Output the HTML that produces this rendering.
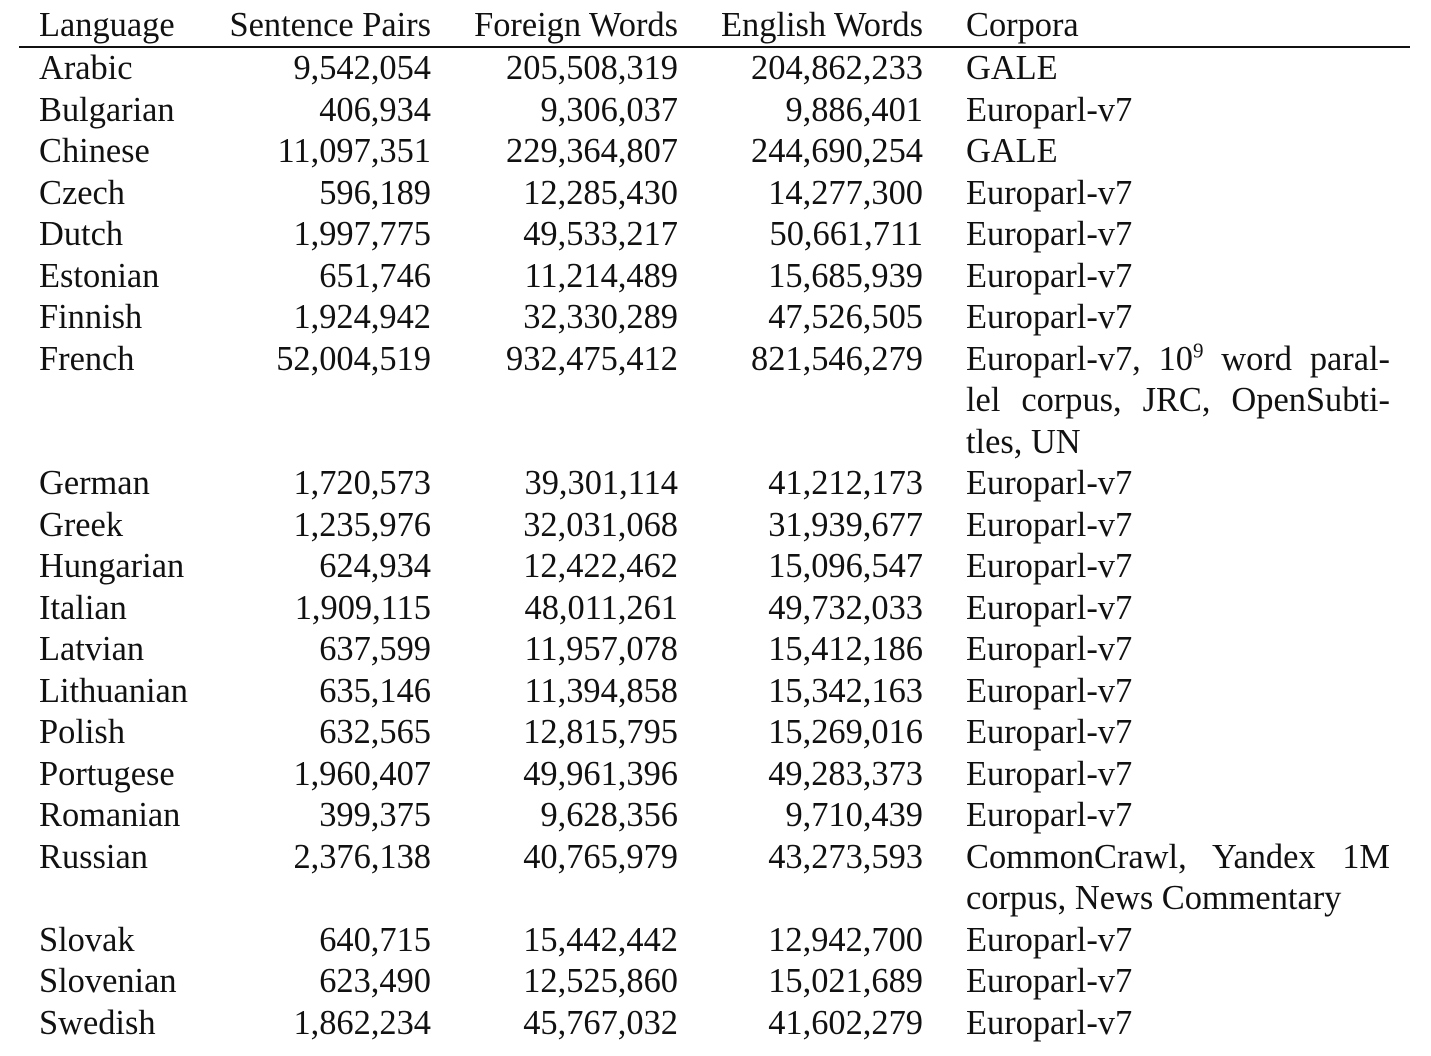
<!DOCTYPE html>
<html><head><meta charset="utf-8">
<style>
body{margin:0;width:1431px;height:1056px;background:#fff;position:relative;overflow:hidden;font-family:"Liberation Serif",serif;font-size:34.4px;color:#111}
.c{position:absolute;height:40px;line-height:40px;white-space:nowrap}
.l{left:39px}
.s{right:1000px;text-align:right}
.f{right:753px;text-align:right}
.e{right:508px;text-align:right}
.k{left:966px}
.j{width:424px;text-align:justify;text-align-last:justify}
#rule{position:absolute;left:19px;top:46px;width:1391px;height:1.5px;background:#111}
</style></head><body>
<div id="rule"></div>
<div id="t"></div>
<script>
const headers=["Language","Sentence Pairs","Foreign Words","English Words","Corpora"];
const rows=[
["Arabic","9,542,054","205,508,319","204,862,233",["GALE"]],
["Bulgarian","406,934","9,306,037","9,886,401",["Europarl-v7"]],
["Chinese","11,097,351","229,364,807","244,690,254",["GALE"]],
["Czech","596,189","12,285,430","14,277,300",["Europarl-v7"]],
["Dutch","1,997,775","49,533,217","50,661,711",["Europarl-v7"]],
["Estonian","651,746","11,214,489","15,685,939",["Europarl-v7"]],
["Finnish","1,924,942","32,330,289","47,526,505",["Europarl-v7"]],
["French","52,004,519","932,475,412","821,546,279",["Europarl-v7, 10<sup style='font-size:21px;line-height:0'>9</sup> word paral-","lel corpus, JRC, OpenSubti-","tles, UN"]],
["German","1,720,573","39,301,114","41,212,173",["Europarl-v7"]],
["Greek","1,235,976","32,031,068","31,939,677",["Europarl-v7"]],
["Hungarian","624,934","12,422,462","15,096,547",["Europarl-v7"]],
["Italian","1,909,115","48,011,261","49,732,033",["Europarl-v7"]],
["Latvian","637,599","11,957,078","15,412,186",["Europarl-v7"]],
["Lithuanian","635,146","11,394,858","15,342,163",["Europarl-v7"]],
["Polish","632,565","12,815,795","15,269,016",["Europarl-v7"]],
["Portugese","1,960,407","49,961,396","49,283,373",["Europarl-v7"]],
["Romanian","399,375","9,628,356","9,710,439",["Europarl-v7"]],
["Russian","2,376,138","40,765,979","43,273,593",["CommonCrawl, Yandex 1M","corpus, News Commentary"]],
["Slovak","640,715","15,442,442","12,942,700",["Europarl-v7"]],
["Slovenian","623,490","12,525,860","15,021,689",["Europarl-v7"]],
["Swedish","1,862,234","45,767,032","41,602,279",["Europarl-v7"]]
];
const t=document.getElementById('t');
const cls=["l","s","f","e","k"];
function cell(txt,c,y,name,justify){
  const d=document.createElement('div');
  d.className='c '+c+(justify?' j':'');
  d.style.top=(y-19)+'px';
  d.innerHTML=txt;
  
  
  t.appendChild(d);
}
headers.forEach((h,i)=>cell(h,cls[i],24,'header-'+i,false));
const pitch=41.5;
let y=67;
rows.forEach((r,ri)=>{
  for(let i=0;i<4;i++) cell(r[i],cls[i],y,'cell-'+r[0].toLowerCase()+'-'+i,false);
  const lines=r[4];
  lines.forEach((ln,li)=>{
    cell(ln,'k',y+li*pitch,'corpora-'+r[0].toLowerCase(),lines.length>1&&li<lines.length-1);
  });
  y+=pitch*lines.length;
});
</script>
</body></html>
